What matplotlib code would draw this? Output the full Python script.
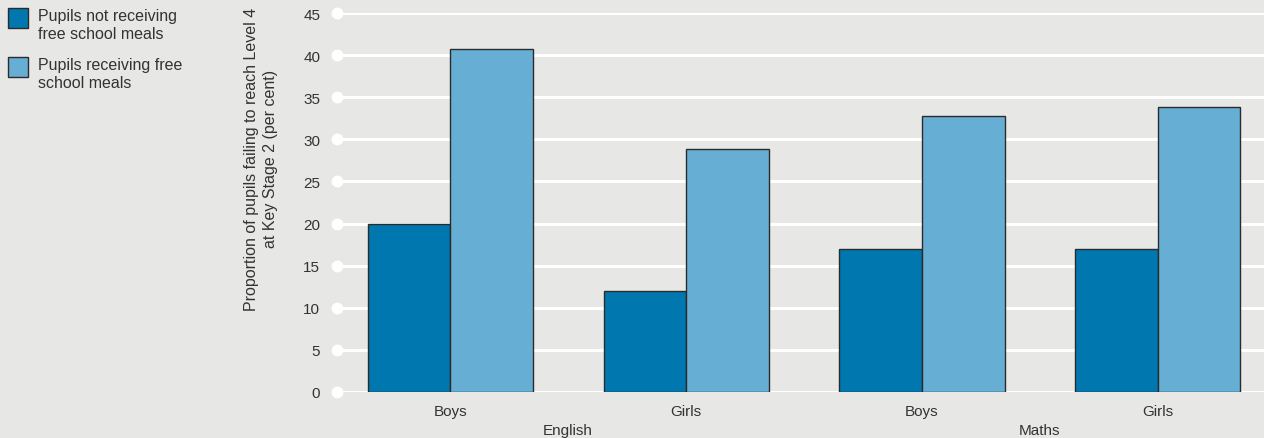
import numpy as np
import matplotlib.pyplot as plt
from matplotlib.patches import Rectangle

plt.rcParams['font.family'] = ['Liberation Sans', 'DejaVu Sans']

categories = ['Boys', 'Girls', 'Boys', 'Girls']
subjects = ['English', 'Maths']
not_fsm = [20, 12, 17, 17]
fsm = [40.7, 28.8, 32.8, 33.8]
series_names = ['Pupils not receiving\nfree school meals', 'Pupils receiving free\nschool meals']
yticks = [0, 5, 10, 15, 20, 25, 30, 35, 40, 45]

bg = '#e7e8e5'
dark = '#0077ae'
light = '#66aed3'
txt = '#333333'

fig = plt.figure(figsize=(12.64, 4.39), dpi=100, facecolor=bg)
ax = fig.add_axes([337 / 1264, 46 / 439, (1264 - 337) / 1264, 379 / 439])
ax.set_facecolor(bg)

x = np.arange(len(categories))
w = 0.35
for t in yticks:
    ax.axhline(t, color='white', lw=2.2, zorder=0)
ax.plot([0] * len(yticks), yticks, 'o', color='white', ms=7.5,
        transform=ax.get_yaxis_transform(), clip_on=False, zorder=1)

ax.bar(x - w / 2, not_fsm, w, color=dark, edgecolor='#2b2b2b', lw=1, zorder=2)
ax.bar(x + w / 2, fsm, w, color=light, edgecolor='#2b2b2b', lw=1, zorder=2)

ax.set_xlim(-0.48, 3.45)
ax.set_ylim(0, 45)
ax.set_yticks(yticks)
ax.set_xticks(x)
ax.set_xticklabels(categories)
ax.tick_params(axis='both', length=0, labelsize=11, colors=txt)
ax.tick_params(axis='y', pad=12)
ax.tick_params(axis='x', pad=9)
for s in ax.spines.values():
    s.set_visible(False)

# group labels under the category labels
for i, name in enumerate(subjects):
    ax.text(2 * i + 0.5, -4.5, name, ha='center', va='center', fontsize=11,
            color=txt, clip_on=False)

fig.text(261 / 1264, 1 - 159 / 439,
         'Proportion of pupils failing to reach Level 4\nat Key Stage 2 (per cent)',
         rotation=90, ha='center', va='center', fontsize=11.5, color=txt,
         multialignment='center', linespacing=1.3)

# legend drawn by hand
for i, (name, col) in enumerate(zip(series_names, [dark, light])):
    y0 = 1 - (29 + 49 * i) / 439
    fig.patches.append(Rectangle((8 / 1264, y0), 20 / 1264, 20 / 439, transform=fig.transFigure,
                                 facecolor=col, edgecolor='#2b2b2b', lw=1))
    fig.text(38 / 1264, 1 - (9 + 49 * i) / 439, name, ha='left', va='top',
             fontsize=11.5, color=txt, linespacing=1.25)

fig.savefig('out.png', dpi=100, facecolor=bg)
